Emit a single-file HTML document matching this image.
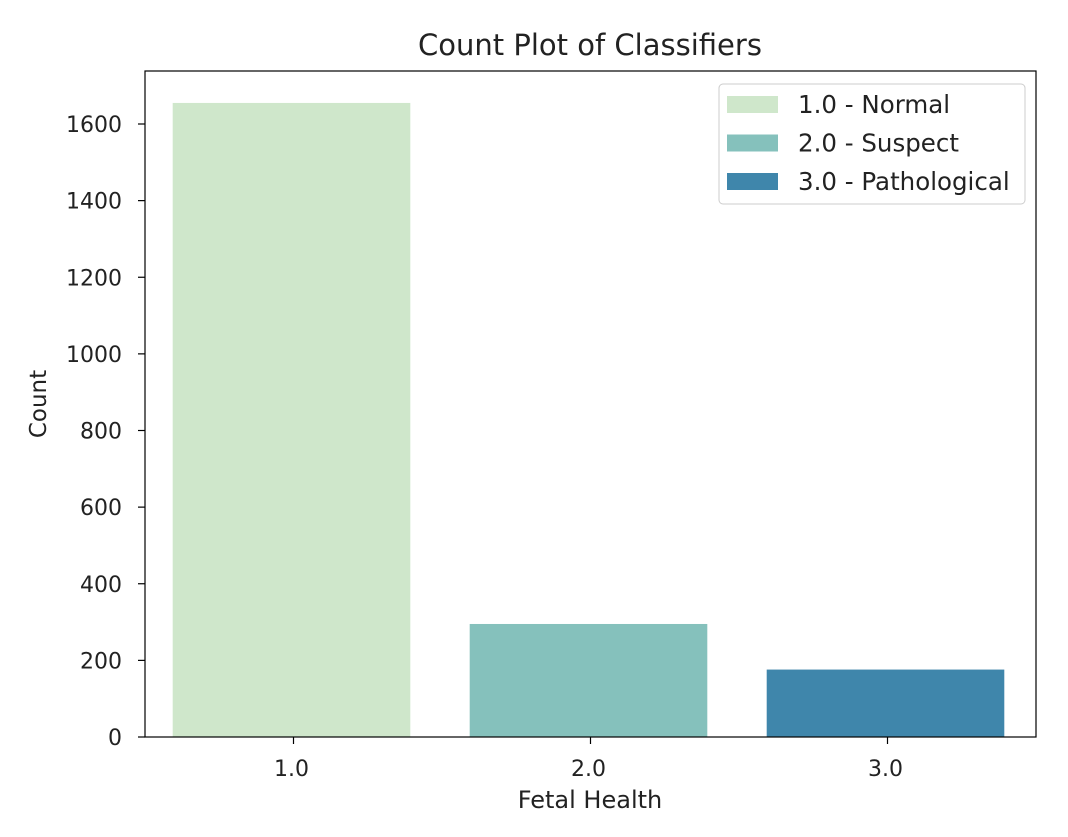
<!DOCTYPE html>
<html><head><meta charset="utf-8"><style>
body{margin:0;background:#fff;}
svg text{font-family:"DejaVu Sans","Liberation Sans",sans-serif;fill:#222;}
</style></head><body>
<svg id="chart" width="1068" height="832" xmlns="http://www.w3.org/2000/svg">
<text x="590" y="55" font-size="29" text-anchor="middle">Count Plot of Classifiers</text>
<g id="bars"></g>
<g id="yticks"></g>
<g id="xticks"></g>
<rect x="145" y="71" width="891" height="666" fill="none" stroke="#000" stroke-width="1.2"/>
<text x="590" y="808" font-size="24" text-anchor="middle">Fetal Health</text>
<text transform="translate(46,404) rotate(-90)" font-size="23" text-anchor="middle">Count</text>
<g id="legend"></g>
</svg>
<script>
const categories=["1.0","2.0","3.0"];
const counts=[1655,295,176];
const legendLabels=["1.0 - Normal","2.0 - Suspect","3.0 - Pathological"];
const yTicks=[0,200,400,600,800,1000,1200,1400,1600];
const colors=["#cfe7cb","#85c1bc","#3f86ab"];
const NS="http://www.w3.org/2000/svg";
const L=145,R=1036,T=71,B=737;
const yScale=v=>B-v*(B-124)/1600;
const band=(R-L)/categories.length;
const xCenter=i=>L+band*(i+0.5);
function mk(tag,attrs,parent){const e=document.createElementNS(NS,tag);for(const k in attrs)e.setAttribute(k,attrs[k]);parent.appendChild(e);return e;}
const bars=document.getElementById('bars'),yt=document.getElementById('yticks'),xt=document.getElementById('xticks'),lg=document.getElementById('legend');
counts.forEach((c,i)=>{
 const w=band*0.8;
 const r=mk('rect',{x:xCenter(i)-w/2-2,y:yScale(c),width:w,height:B-yScale(c),fill:colors[i]},bars);
 
 
 const l=mk('line',{x1:xCenter(i),x2:xCenter(i),y1:B,y2:B+7,stroke:'#000','stroke-width':1.2},xt);
 
 
 const t=mk('text',{x:xCenter(i)-2,y:B+39,'font-size':22,'text-anchor':'middle'},xt);
 t.textContent=categories[i];
 
 
});
yTicks.forEach(v=>{
 const y=yScale(v);
 const l=mk('line',{x1:L-7,x2:L,y1:y,y2:y,stroke:'#000','stroke-width':1.2},yt);
 
 
 const t=mk('text',{x:L-23,y:y+8,'font-size':22,'text-anchor':'end'},yt);
 t.textContent=v;
 
 
});
const box=mk('rect',{x:719,y:84,width:306,height:120,rx:4,fill:'#fff','fill-opacity':0.8,stroke:'#ccc'},lg);


legendLabels.forEach((s,i)=>{
 const y=104+i*38.5;
 const p=mk('rect',{x:727,y:y-8,width:51,height:17,fill:colors[i]},lg);
 
 
 const t=mk('text',{x:798,y:y+9,'font-size':24.5},lg);
 t.textContent=s;
 
 
});
</script>
</body></html>
